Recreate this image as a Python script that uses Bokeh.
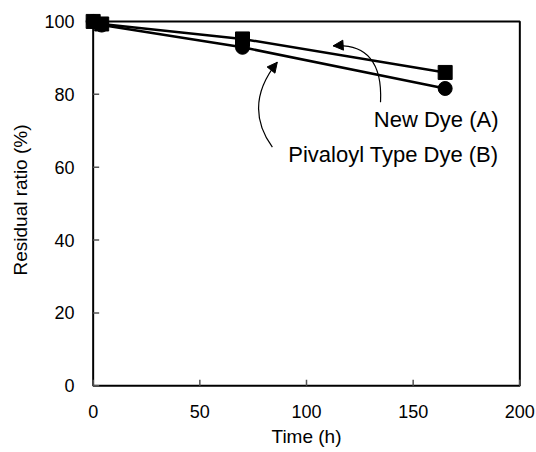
import math
from bokeh.plotting import figure
from bokeh.models import Range1d, FixedTicker, Arrow, NormalHead, Label
from bokeh.embed import file_html
from bokeh.resources import INLINE

# data
time_a = [0, 4, 70, 165]
ratio_a = [100, 99.3, 95.2, 86.0]
time_b = [0, 4, 70, 165]
ratio_b = [100, 99.0, 92.9, 81.6]
x_ticks = [0, 50, 100, 150, 200]
y_ticks = [0, 20, 40, 60, 80, 100]
x_lim = (0, 200)
y_lim = (0, 100)
x_title = "Time (h)"
y_title = "Residual ratio (%)"
label_a = "New Dye (A)"
label_b = "Pivaloyl Type Dye (B)"

# annotation geometry (data coordinates)
curve_a = dict(x0=[134.7], y0=[77.8], x1=[112.5], y1=[93.3], cx=[136.1], cy=[94.2])
curve_b = dict(x0=[84.0], y0=[65.5], x1=[86.3], y1=[88.8], cx=[70.0], cy=[76.9])
head_a = (115.0, 93.4, 112.5, 93.3)
head_b = (84.8, 87.7, 86.3, 88.8)
text_a_pos = (190.0, 73.2)
text_b_pos = (190.0, 63.6)

# the frame is a little larger than the drawn box so corner markers are not clipped
p = figure(width=536, height=452, output_backend="svg", toolbar_location=None, title=None,
           x_range=Range1d(x_lim[0] - 5, x_lim[1] + 5),
           y_range=Range1d(y_lim[0] - 1, y_lim[1] + 3),
           min_border_left=82, min_border_right=6, min_border_top=10, min_border_bottom=63)

p.xgrid.visible = False
p.ygrid.visible = False
p.outline_line_color = None
p.background_fill_color = "white"
p.border_fill_color = "white"

xa = p.xaxis[0]
ya = p.yaxis[0]
for ax in (xa, ya):
    ax.axis_line_color = None
    ax.major_tick_line_color = None
    ax.minor_tick_line_color = None
    ax.major_label_text_font = "Liberation Sans"
    ax.major_label_text_font_size = "18px"
    ax.major_label_text_color = "black"
    ax.axis_label_text_font = "Liberation Sans"
    ax.axis_label_text_font_size = "19px"
    ax.axis_label_text_font_style = "normal"
    ax.axis_label_text_color = "black"
xa.ticker = FixedTicker(ticks=x_ticks)
ya.ticker = FixedTicker(ticks=y_ticks)
xa.axis_label = x_title
ya.axis_label = y_title
xa.major_label_standoff = 9
ya.major_label_standoff = 2
xa.axis_label_standoff = 5
ya.axis_label_standoff = 10

# box around the data area, drawn first so that markers sit on top of it
p.quad(left=[x_lim[0]], right=[x_lim[1]], bottom=[y_lim[0]], top=[y_lim[1]],
       fill_color=None, line_color="black", line_width=2)
# inward ticks
p.ray(x=[x_lim[0]] * len(y_ticks), y=y_ticks, length=6, length_units="screen", angle=0,
      line_color="#555555", line_width=1.5)
p.ray(x=x_ticks, y=[y_lim[0]] * len(x_ticks), length=6, length_units="screen",
      angle=math.pi / 2, line_color="#555555", line_width=1.5)

# series
p.line(time_b, ratio_b, line_color="black", line_width=2.5)
p.scatter(time_b, ratio_b, marker="circle", size=14, fill_color="black", line_color="black")
p.line(time_a, ratio_a, line_color="black", line_width=2.5)
p.scatter(time_a, ratio_a, marker="square", size=14, fill_color="black", line_color="black")

# curved arrows
p.quadratic(line_color="black", line_width=1.2, **curve_a)
p.quadratic(line_color="black", line_width=1.2, **curve_b)
for (xs, ys, xe, ye) in (head_a, head_b):
    p.add_layout(Arrow(end=NormalHead(size=10, fill_color="black", line_color="black"),
                       x_start=xs, y_start=ys, x_end=xe, y_end=ye,
                       line_color="black", line_width=1.2))

for pos, txt in ((text_a_pos, label_a), (text_b_pos, label_b)):
    p.add_layout(Label(x=pos[0], y=pos[1], text=txt, text_align="right",
                       text_baseline="middle", text_font="Liberation Sans",
                       text_font_size="22px", text_color="black"))

open("out.html", "w").write(file_html(p, INLINE))
